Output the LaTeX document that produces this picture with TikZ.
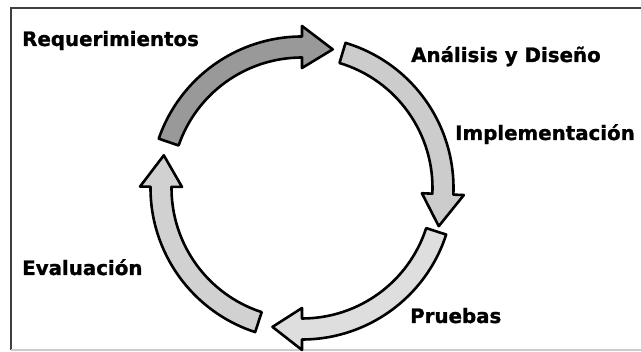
\documentclass[tikz,border=0pt]{standalone}
\usepackage{fontspec}
\setmainfont{DejaVu Sans}[BoldFeatures={FakeBold=1.2}]
\begin{document}
\begin{tikzpicture}[x=1pt,y=1pt,
  lbl/.style={anchor=base west,inner sep=0pt,font=\fontsize{19.8}{22}\selectfont\bfseries},
  cyc/.style={draw=black,line width=2.6pt,line join=round}]
\useasboundingbox (0,0) rectangle (641,352);
\fill[white] (0,0) rectangle (641,352);
\draw[line width=1.6pt,draw=black!75] (645,344) -- (11,344) -- (11,2);
\draw[line width=1.2pt,draw=black!20] (11,2) -- (645,2);
% arrows: tail angle, head base angle, tip angle
\def\ri{130.5pt}\def\ro{151.5pt}\def\hi{120pt}\def\ho{162pt}\def\rm{142pt}
\newcommand\cycarrow[4]{%
  \filldraw[cyc,fill=#4] (#1:\ro) arc[start angle=#1,end angle=#2,radius=\ro]
    -- (#2:\ho) -- (#3:\rm) -- (#2:\hi) -- (#2:\ri)
    arc[start angle=#2,end angle=#1,radius=\ri] -- cycle;}
\begin{scope}[shift={(302,164)}]
  \cycarrow{161}{90}{77.5}{black!40}
  \cycarrow{73.3}{-2.5}{-15.6}{black!20}
  \cycarrow{-17.9}{-90}{-102}{black!13}
  \cycarrow{-108}{-180.5}{-193.3}{black!18}
\end{scope}
\node[lbl] (req) at (22,306) {Requerimientos};
\node[lbl] (ana) at (411,290) {Análisis y Diseño};
\node[lbl] (imp) at (455,212) {Implementación};
\node[lbl] (eva) at (22,77) {Evaluación};
\node[lbl] (pru) at (410,29) {Pruebas};
\end{tikzpicture}
\end{document}
